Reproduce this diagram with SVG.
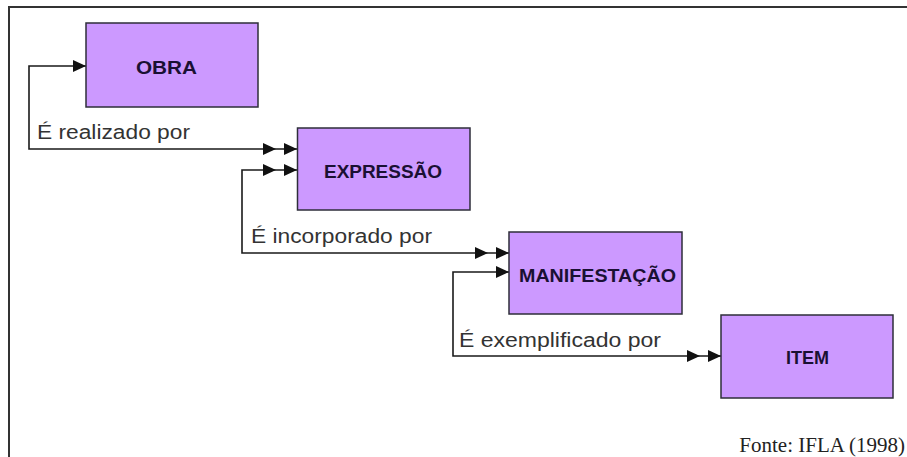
<svg xmlns="http://www.w3.org/2000/svg" width="907" height="457" viewBox="0 0 907 457">
  <style>
    .box { fill: #cc99ff; stroke: #2e2e3a; stroke-width: 1.5; }
    .name { font-family: "Liberation Sans", Arial, sans-serif; font-weight: bold; font-size: 19px; fill: #1a1033; text-anchor: middle; }
    .rel { font-family: "Liberation Sans", Arial, sans-serif; font-size: 20px; fill: #333333; }
    .conn { fill: none; stroke: #1a1a1a; stroke-width: 1.6; }
    .src { font-family: "Liberation Serif", "Times New Roman", serif; font-size: 21px; fill: #222222; text-anchor: end; }
  </style>
  <defs>
    <marker id="one" markerUnits="userSpaceOnUse" viewBox="0 0 13 12" refX="13" refY="6" markerWidth="13" markerHeight="12" orient="auto-start-reverse">
      <polygon points="0,0 13,6 0,12" fill="#111111"/>
    </marker>
    <marker id="two" markerUnits="userSpaceOnUse" viewBox="0 0 34 12" refX="34" refY="6" markerWidth="34" markerHeight="12" orient="auto-start-reverse">
      <polygon points="0,0 13,6 0,12" fill="#111111"/>
      <polygon points="21,0 34,6 21,12" fill="#111111"/>
    </marker>
  </defs>
  <rect width="907" height="457" fill="#ffffff"/>
  <path d="M9,457 V7 H907" fill="none" stroke="#333333" stroke-width="2"/>

  <g id="connectors">
    <path class="conn" d="M86,66 H29 V149 H297" marker-start="url(#one)" marker-end="url(#two)"/>
    <path class="conn" d="M297,170 H242 V253 H509" marker-start="url(#two)" marker-end="url(#two)"/>
    <path class="conn" d="M509,272 H453 V356 H721" marker-start="url(#one)" marker-end="url(#two)"/>
  </g>

  <g id="labels">
    <text class="rel" x="37" y="139" textLength="153" lengthAdjust="spacingAndGlyphs">É realizado por</text>
    <text class="rel" x="251" y="243" textLength="181" lengthAdjust="spacingAndGlyphs">É incorporado por</text>
    <text class="rel" x="459" y="347" textLength="202" lengthAdjust="spacingAndGlyphs">É exemplificado por</text>
  </g>

  <g id="obra">
    <rect class="box" x="86" y="23" width="172" height="84"/>
    <text class="name" x="166.5" y="74" textLength="61" lengthAdjust="spacingAndGlyphs">OBRA</text>
  </g>
  <g id="expressao">
    <rect class="box" x="297.5" y="128" width="172.5" height="82"/>
    <text class="name" x="383" y="178" textLength="118" lengthAdjust="spacingAndGlyphs">EXPRESSÃO</text>
  </g>
  <g id="manifestacao">
    <rect class="box" x="509" y="232" width="173" height="82"/>
    <text class="name" x="597.5" y="282" textLength="157" lengthAdjust="spacingAndGlyphs">MANIFESTAÇÃO</text>
  </g>
  <g id="item">
    <rect class="box" x="721" y="315" width="172" height="83"/>
    <text class="name" x="807.5" y="364" textLength="43" lengthAdjust="spacingAndGlyphs">ITEM</text>
  </g>

  <text class="src" x="905" y="452">Fonte: IFLA (1998)</text>
</svg>
